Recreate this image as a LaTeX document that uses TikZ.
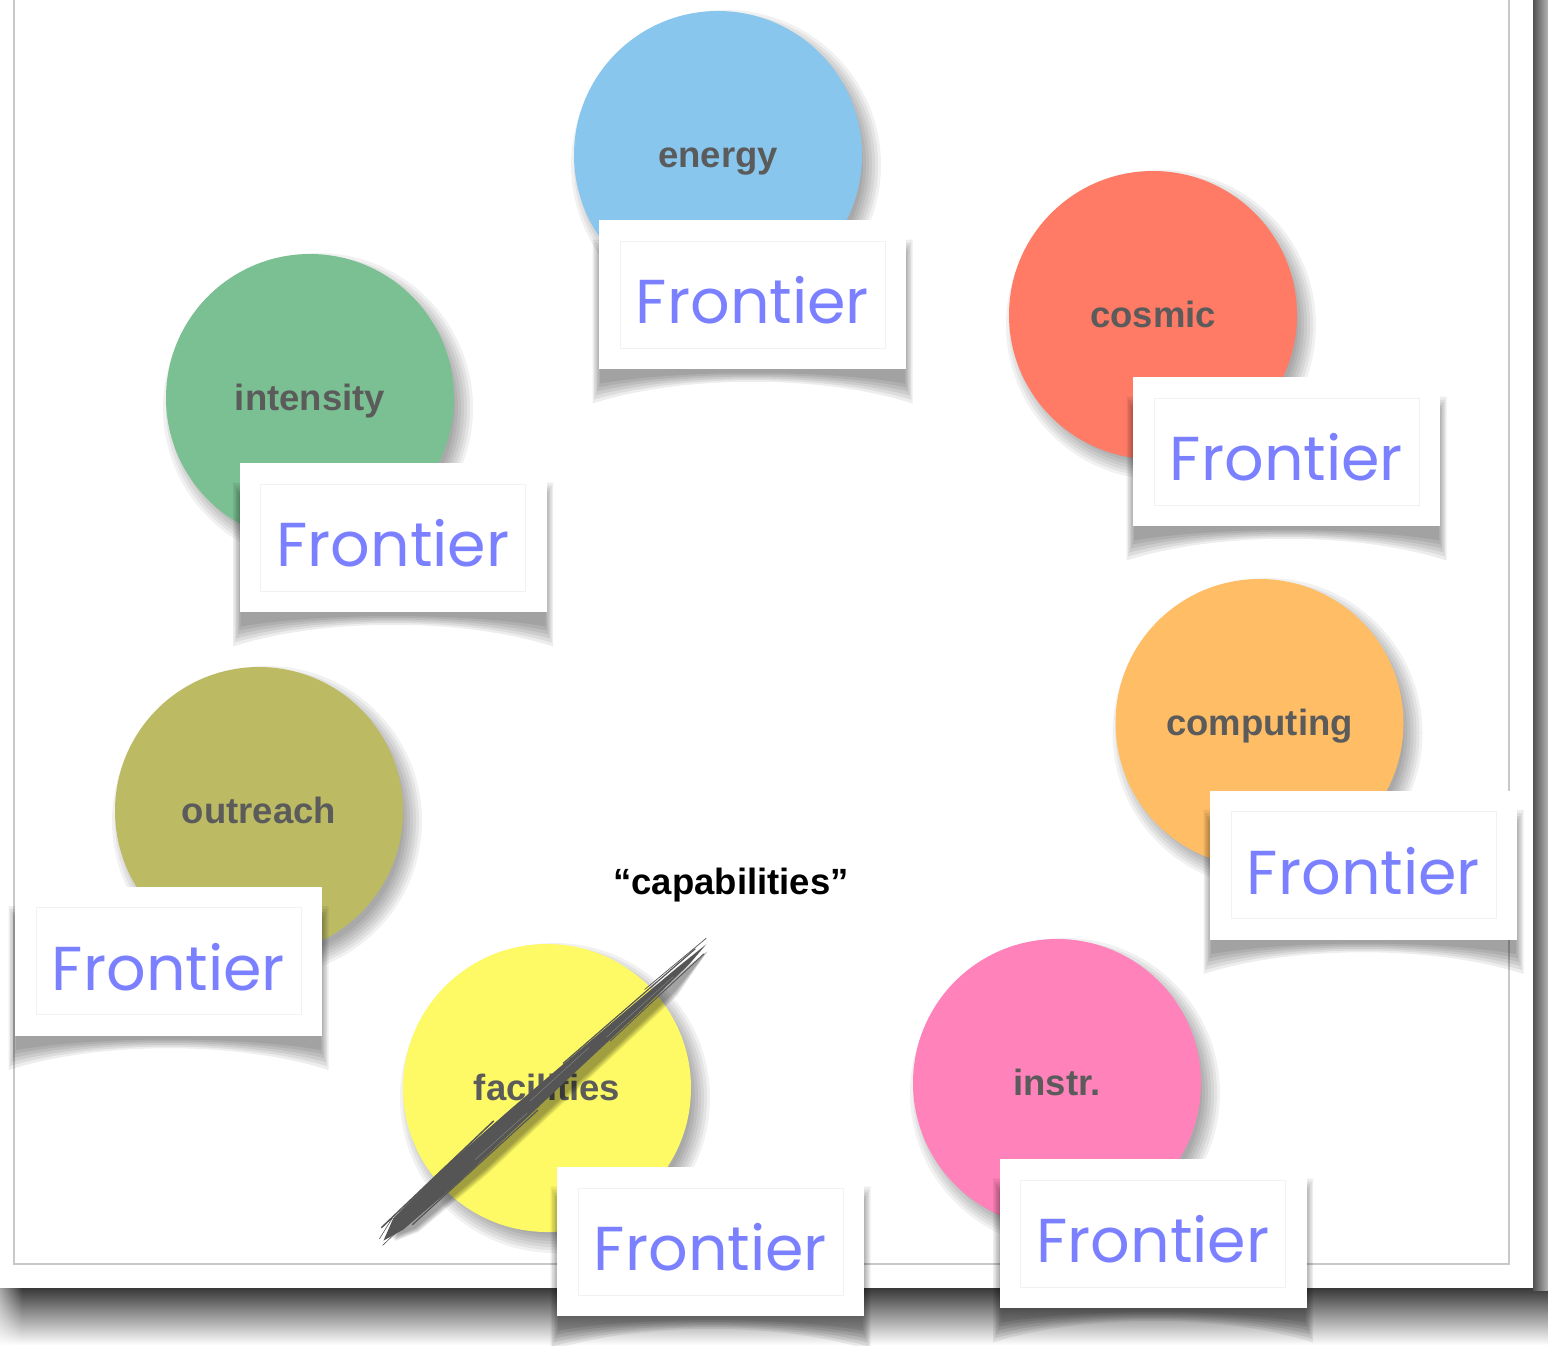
\documentclass[tikz,border=0pt]{standalone}
\usepackage{fontspec}
\setmainfont{Liberation Sans}
\newfontfamily\handfont{Poppins}
\usepackage{graphicx}
\usetikzlibrary{calc,fadings}
\definecolor{cEnergyC}{HTML}{88C6EE}
\definecolor{cCosmicC}{HTML}{FF7B66}
\definecolor{cIntensityC}{HTML}{7BC092}
\definecolor{cComputingC}{HTML}{FFBD66}
\definecolor{cOutreachC}{HTML}{BCBB64}
\definecolor{cFacilitiesC}{HTML}{FDFA65}
\definecolor{cInstrC}{HTML}{FF82BA}
\definecolor{labelgray}{HTML}{5B5B5B}
\definecolor{frontblue}{HTML}{7A80FF}
\definecolor{brushgray}{HTML}{555555}
\definecolor{bordergray}{HTML}{C8C8C8}
\tikzset{
  bubble/.style={circle, minimum size=288pt, inner sep=0pt},
  bubbletext/.style={anchor=base, inner sep=0pt, font=\fontsize{36.5}{40}\selectfont\bfseries, text=labelgray},
  card/.style={rectangle, fill=white, minimum width=307pt, minimum height=149pt, inner sep=0pt},
  cardinner/.style={draw=black!5, line width=0.6pt},
  fronttext/.style={text=frontblue, inner sep=0pt},
  capstyle/.style={font=\fontsize{36.5}{40}\selectfont\bfseries, text=black, inner sep=0pt},
}
\newcommand\bubbleshadow[2]{%
  \foreach \kk in {0,...,6}{\fill[black,opacity=0.055] ({#1+8},{#2+10}) circle [radius={155pt-3pt*\kk}];}}
\newcommand\mkbubble[5]{% name, x, y, colour, text
  \node[bubble, fill=#4] (#1) at (#2,#3) {};
  \node[bubbletext] (#1Label) at (#2,{#3+12}) {#5};
}
\newcommand\mkcard[3]{%
  \foreach \kk in {0,...,5}{\fill[black,opacity=0.07]
    ({#2-160+1.5*\kk},{#3-55+3*\kk}) -- ({#2-160+1.5*\kk},{#3+75+34-4*\kk})
    .. controls ({#2-70},{#3+75+5-\kk}) and ({#2+70},{#3+75+5-\kk}) ..
    ({#2+160-1.5*\kk},{#3+75+34-4*\kk}) -- ({#2+160-1.5*\kk},{#3-55+3*\kk}) -- cycle;}
  \node[card] (c#1) at (#2,#3) {};
  \draw[cardinner] ([shift={(21,21)}]c#1.north west) rectangle ([shift={(-21,-21)}]c#1.south east);
  \node[fronttext] (f#1) at (#2,{#3+6}) {\resizebox{233pt}{!}{\handfont Frontier}};
}
\begin{document}
\begin{tikzpicture}[x=1pt,y=-1pt]
\useasboundingbox (0,0) rectangle (1548,1345);
% page and its shadow
\fill[white] (0,0) rectangle (1548,1345);
\shade[top color=black!78, bottom color=white] (0,1288) rectangle (1548,1345);
\shade[left color=black!68, right color=black!30] (1533,0) rectangle (1548,1290);
\fill[white, fill opacity=0.55, path fading=east] (0,1288) rectangle (22,1345);
\fill[white] (0,0) rectangle (1533,1288);
\draw[bordergray, line width=1.2pt] (14,-3) -- (14,1264) -- (1509,1264) -- (1509,-3);
% circle shadows
\bubbleshadow{718}{155}
\bubbleshadow{1153}{315}
\bubbleshadow{310}{398}
\bubbleshadow{1259.5}{723}
\bubbleshadow{259}{811}
\bubbleshadow{547}{1088}
\bubbleshadow{1057}{1083}
% circles
\mkbubble{energy}{718}{155}{cEnergyC}{energy}
\mkbubble{cosmic}{1153}{315}{cCosmicC}{cosmic}
\mkbubble{intensity}{310}{398}{cIntensityC}{intensity}
\mkbubble{computing}{1259.5}{723}{cComputingC}{computing}
\mkbubble{outreach}{259}{811}{cOutreachC}{outreach}
\mkbubble{facilities}{547}{1088}{cFacilitiesC}{facilities}
\mkbubble{instr}{1057}{1083}{cInstrC}{instr.}
% capabilities
\node[capstyle] (capab) at (731,885) {“capabilities”};
% brush strike
\begin{scope}[shift={(383,1237)}, rotate=41.9]
  \foreach \kk in {0,...,5}{
    \fill[black,opacity=0.07] (6,{6+\kk}) -- (30,{-4+\kk}) -- (120,{-7+\kk}) -- (250,{-5+\kk}) -- (380,{-1+\kk}) -- (432,4) -- (380,{12+\kk}) -- (250,{15+\kk}) -- (120,{18+\kk}) -- (30,{15+\kk}) -- cycle;}
  \fill[brushgray] (-2,3) -- (20,-7) -- (90,-11) -- (180,-10) -- (260,-8) -- (340,-6) -- (400,-4) -- (436,-2) -- (410,1.5) -- (340,4) -- (260,5.5) -- (180,7.5) -- (90,9.5) -- (20,8) -- cycle;
  \draw[brushgray, line width=1.5pt] (5,-8) -- (160,-12.5);
  \draw[brushgray, line width=1.2pt] (30,10.5) -- (200,9);
  \draw[brushgray, line width=1.2pt] (250,-9) -- (425,-6);
  \draw[brushgray, line width=0.9pt] (300,6) -- (428,3.5);
  \draw[brushgray, line width=0.7pt] (360,-9.5) -- (440,-6.5);
  \draw[brushgray, line width=0.6pt] (-6,6) -- (25,5);
  \draw[brushgray, line width=0.6pt] (-4,-1) -- (20,-8);
  \draw[white, opacity=0.25, line width=0.5pt] (200,-3) -- (280,-3.5);
  \draw[white, opacity=0.25, line width=0.5pt] (300,0.5) -- (390,0);
  \draw[white, opacity=0.25, line width=0.5pt] (120,4) -- (190,4);
\end{scope}
% cards
\mkcard{Energy}{752.5}{294.5}
\mkcard{Cosmic}{1286.5}{451.5}
\mkcard{Intensity}{393}{537.5}
\mkcard{Computing}{1363.5}{865}
\mkcard{Outreach}{168.5}{961}
\mkcard{Facilities}{710.5}{1241.5}
\mkcard{Instr}{1153}{1233.5}
\end{tikzpicture}
\end{document}
